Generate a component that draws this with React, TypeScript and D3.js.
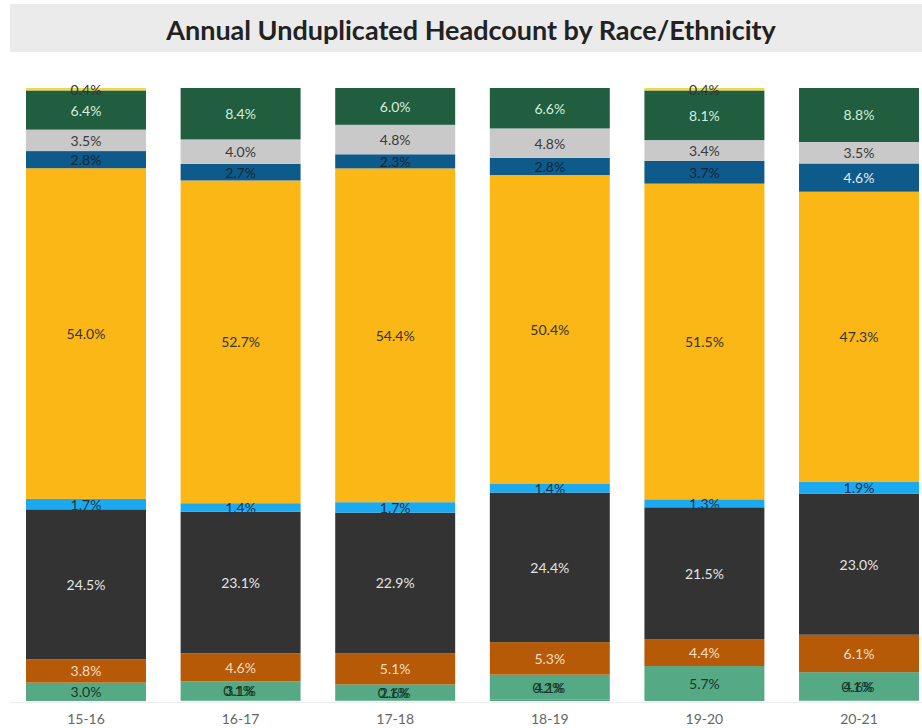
import React from "react";
import * as d3 from "d3";

// school years along the x axis
const YEARS = ["15-16", "16-17", "17-18", "18-19", "19-20", "20-21"];

// shares in percent, stacked from the bottom up
const declined = [0, 0.1, 0.1, 0.2, 0, 0.1];
const multiEthnic = [3.0, 3.1, 2.6, 4.1, 5.7, 4.6];
const filipino = [3.8, 4.6, 5.1, 5.3, 4.4, 6.1];
const white = [24.5, 23.1, 22.9, 24.4, 21.5, 23.0];
const pacificIslander = [1.7, 1.4, 1.7, 1.4, 1.3, 1.9];
const hispanic = [54.0, 52.7, 54.4, 50.4, 51.5, 47.3];
const asian = [2.8, 2.7, 2.3, 2.8, 3.7, 4.6];
const unknown = [3.5, 4.0, 4.8, 4.8, 3.4, 3.5];
const africanAmerican = [6.4, 8.4, 6.0, 6.6, 8.1, 8.8];
const amIndian = [0.4, 0, 0, 0, 0.4, 0];

type Series = {
  key: string;
  values: number[];
  color: string;
  text: (v: number) => string;
};

const SERIES: Series[] = [
  { key: "Declined", values: declined, color: "#4fa47e", text: () => "#163a2a" },
  { key: "Multi-Ethnicity", values: multiEthnic, color: "#55a984", text: () => "#163a2a" },
  { key: "Filipino", values: filipino, color: "#b65a07", text: () => "#f7dec4" },
  { key: "White", values: white, color: "#333333", text: () => "#e4e4e4" },
  { key: "Pacific Islander", values: pacificIslander, color: "#1ba9ef", text: () => "#1b3450" },
  { key: "Hispanic", values: hispanic, color: "#fbb715", text: () => "#333333" },
  { key: "Asian", values: asian, color: "#0e5a8a", text: (v) => (v >= 4 ? "#e2edf5" : "#14263a") },
  { key: "Unknown", values: unknown, color: "#c9c9c9", text: () => "#3a3a3a" },
  { key: "African-American", values: africanAmerican, color: "#215e40", text: () => "#d4eedd" },
  { key: "American Indian", values: amIndian, color: "#ebdb4c", text: () => "#333333" },
];

const W = 922;
const H = 728;
const TOP = 88;
const BASE = 701;

export default function App() {
  const x = d3.scaleBand<string>().domain(YEARS).range([26, 919]).paddingInner(0.224).paddingOuter(0);
  const y = d3.scaleLinear().domain([0, 1]).range([BASE, TOP]);

  const rows = YEARS.map((yr, i) => {
    const r: Record<string, number | string> = { year: yr };
    const total = d3.sum(SERIES, (s) => s.values[i]);
    SERIES.forEach((s) => (r[s.key] = s.values[i] / total));
    return r;
  });

  const stacked = d3
    .stack<Record<string, number | string>>()
    .keys(SERIES.map((s) => s.key))
    .value((d, k) => d[k] as number)(rows);

  return (
    <svg
      width={W}
      height={H}
      style={{ position: "absolute", left: 0, top: 0, background: "#fff" }}
      fontFamily="Lato, 'Noto Sans', sans-serif"
    >
      <rect x={10} y={4} width={912} height={48} fill="#ebebeb" />
      <text x={471} y={29} textAnchor="middle" dominantBaseline="central" fontSize={27} fontWeight={700} fill="#222">
        Annual Unduplicated Headcount by Race/Ethnicity
      </text>

      <line x1={10} x2={W} y1={BASE + 1.5} y2={BASE + 1.5} stroke="#ececec" />

      {stacked.map((layer, si) => (
        <g key={layer.key}>
          {layer.map((d, i) => (
            <rect
              key={i}
              x={x(YEARS[i])}
              width={x.bandwidth()}
              y={y(d[1])}
              height={Math.max(0, y(d[0]) - y(d[1]))}
              fill={SERIES[si].color}
            />
          ))}
        </g>
      ))}

      {stacked.map((layer, si) => (
        <g key={layer.key + "-labels"}>
          {layer.map((d, i) => {
            const v = SERIES[si].values[i];
            if (!v) return null;
            // the tiny bottom share is printed on top of its neighbour's label
            const src = si === 0 ? stacked[1][i] : d;
            const cy = (y(src[0]) + y(src[1])) / 2;
            return (
              <text
                key={i}
                x={(x(YEARS[i]) ?? 0) + x.bandwidth() / 2 - (si === 0 ? 2 : 0)}
                y={cy}
                textAnchor="middle"
                dominantBaseline="central"
                fontSize={14}
                fill={SERIES[si].text(v)}
              >
                {v.toFixed(1)}%
              </text>
            );
          })}
        </g>
      ))}

      {YEARS.map((yr) => (
        <text
          key={yr}
          x={(x(yr) ?? 0) + x.bandwidth() / 2}
          y={718}
          textAnchor="middle"
          dominantBaseline="central"
          fontSize={14}
          fill="#666"
        >
          {yr}
        </text>
      ))}
    </svg>
  );
}
